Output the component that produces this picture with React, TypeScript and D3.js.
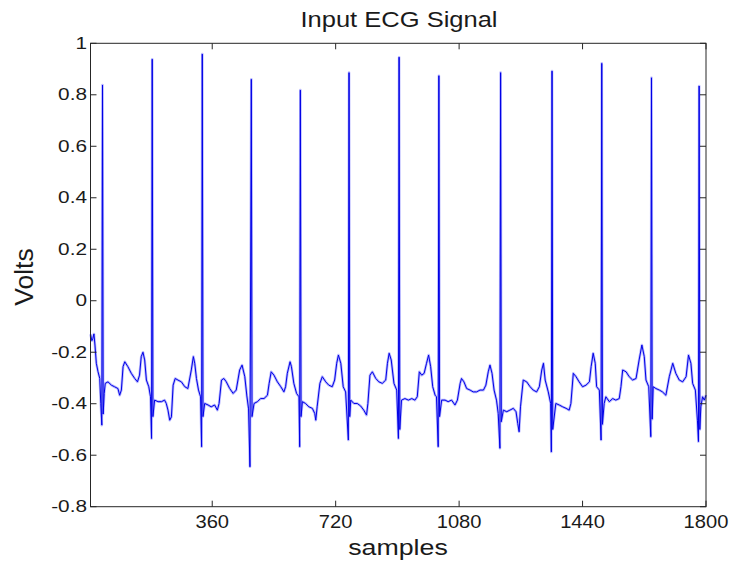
import React from 'react';
import * as d3 from 'd3';

const W = 731;
const H = 568;
const plot = { left: 90.5, right: 706, top: 43.3, bottom: 506.7 };

const xTicks = [360, 720, 1080, 1440, 1800];
const yTicks = [-0.8, -0.6, -0.4, -0.2, 0, 0.2, 0.4, 0.6, 0.8, 1];

// [sample, volts], one chunk per heart beat
const lead = [[5, -0.13], [9, -0.155], [12, -0.146], [15, -0.129], [18, -0.172], [22, -0.243], [27, -0.276], [32, -0.302], [35, -0.4], [38, -0.483], [40, 0.838], [42, -0.44]];
const beat01 = [[45, -0.36], [48, -0.321], [56, -0.315], [66, -0.328], [75, -0.334], [85, -0.341], [90, -0.367], [95, -0.347], [100, -0.256], [105, -0.237], [114, -0.256], [124, -0.282], [134, -0.302], [142, -0.315], [148, -0.289], [153, -0.217], [158, -0.2], [163, -0.23], [168, -0.308], [175, -0.334], [180, -0.373], [183, -0.535], [185, 0.938], [187, -0.45]];
const beat02 = [[192, -0.386], [202, -0.392], [212, -0.392], [221, -0.386], [226, -0.399], [231, -0.425], [236, -0.464], [241, -0.451], [246, -0.328], [252, -0.302], [260, -0.308], [270, -0.315], [280, -0.334], [289, -0.341], [299, -0.269], [305, -0.217], [309, -0.243], [314, -0.302], [320, -0.347], [326, -0.373], [329, -0.567], [331, 0.958], [333, -0.45]];
const beat03 = [[338, -0.399], [348, -0.405], [357, -0.412], [367, -0.405], [375, -0.425], [380, -0.399], [387, -0.308], [394, -0.302], [401, -0.315], [411, -0.341], [421, -0.36], [430, -0.347], [440, -0.269], [447, -0.25], [455, -0.295], [461, -0.37], [466, -0.42], [470, -0.645], [474, 0.86], [476, -0.45]];
const beat04 = [[482, -0.399], [492, -0.392], [501, -0.38], [511, -0.38], [521, -0.367], [526, -0.321], [532, -0.276], [540, -0.289], [550, -0.315], [560, -0.334], [569, -0.354], [574, -0.334], [579, -0.282], [587, -0.237], [591, -0.256], [598, -0.321], [606, -0.36], [613, -0.373], [615, -0.567], [617, 0.818], [619, -0.45]];
const beat05 = [[623, -0.392], [632, -0.399], [642, -0.412], [652, -0.418], [659, -0.438], [662, -0.464], [666, -0.412], [674, -0.321], [681, -0.295], [691, -0.315], [700, -0.328], [710, -0.334], [717, -0.308], [723, -0.243], [728, -0.211], [735, -0.243], [742, -0.334], [749, -0.354], [757, -0.541], [759, 0.886], [761, -0.45]];
const beat06 = [[764, -0.386], [773, -0.399], [783, -0.399], [793, -0.409], [802, -0.425], [810, -0.444], [814, -0.399], [820, -0.289], [827, -0.276], [837, -0.302], [846, -0.315], [856, -0.321], [866, -0.308], [871, -0.243], [876, -0.204], [882, -0.23], [890, -0.321], [898, -0.347], [903, -0.535], [905, 0.946], [907, -0.5]];
const beat07 = [[912, -0.386], [922, -0.38], [932, -0.386], [942, -0.38], [951, -0.386], [958, -0.373], [964, -0.276], [971, -0.289], [978, -0.282], [985, -0.243], [991, -0.211], [997, -0.256], [1003, -0.334], [1010, -0.367], [1014, -0.373], [1019, -0.567], [1021, 0.874], [1023, -0.45]];
const beat08 = [[1029, -0.386], [1039, -0.386], [1048, -0.392], [1058, -0.386], [1068, -0.405], [1075, -0.386], [1083, -0.321], [1087, -0.302], [1094, -0.315], [1102, -0.341], [1112, -0.347], [1121, -0.354], [1131, -0.354], [1141, -0.347], [1151, -0.347], [1158, -0.328], [1165, -0.276], [1170, -0.25], [1176, -0.282], [1182, -0.347], [1189, -0.386], [1194, -0.438], [1199, -0.573], [1201, 0.886], [1203, -0.47]];
const beat09 = [[1209, -0.425], [1219, -0.431], [1228, -0.425], [1238, -0.418], [1246, -0.431], [1251, -0.477], [1255, -0.509], [1259, -0.412], [1267, -0.308], [1277, -0.315], [1287, -0.334], [1296, -0.347], [1306, -0.354], [1314, -0.334], [1321, -0.269], [1326, -0.243], [1331, -0.308], [1340, -0.354], [1347, -0.399], [1349, -0.587], [1351, 0.892], [1353, -0.5]];
const beat10 = [[1362, -0.399], [1372, -0.405], [1382, -0.412], [1392, -0.418], [1401, -0.425], [1406, -0.399], [1413, -0.282], [1421, -0.295], [1430, -0.315], [1440, -0.334], [1450, -0.328], [1460, -0.315], [1465, -0.256], [1471, -0.204], [1477, -0.243], [1481, -0.334], [1489, -0.347], [1494, -0.541], [1496, 0.922], [1498, -0.48]];
const beat11 = [[1503, -0.399], [1508, -0.373], [1518, -0.392], [1528, -0.38], [1537, -0.386], [1547, -0.38], [1552, -0.334], [1557, -0.269], [1567, -0.276], [1576, -0.295], [1586, -0.308], [1596, -0.302], [1605, -0.23], [1613, -0.172], [1620, -0.217], [1625, -0.308], [1633, -0.334], [1639, -0.528], [1641, 0.866], [1643, -0.46]];
const beat12 = [[1646, -0.334], [1654, -0.341], [1664, -0.347], [1673, -0.354], [1683, -0.367], [1693, -0.295], [1703, -0.243], [1712, -0.282], [1722, -0.308], [1732, -0.315], [1742, -0.295], [1749, -0.211], [1756, -0.243], [1761, -0.321], [1769, -0.347], [1775, -0.464], [1778, -0.547], [1780, 0.834], [1782, -0.5]];
const tail = [[1785, -0.412], [1790, -0.373], [1795, -0.386], [1800, -0.367]];

const trace = [lead, beat01, beat02, beat03, beat04, beat05, beat06, beat07, beat08, beat09, beat10, beat11, beat12, tail].flat();

const font = "'Liberation Sans', Arial, Helvetica, sans-serif";
const ink = '#1a1a1a';

// text squeezed/stretched sideways like the resized matlab figure
const Label = ({ x, y, size, sx = 1, anchor = 'middle', rotate = 0, children }) => (
  <g transform={`translate(${x},${y}) rotate(${rotate}) scale(${sx},1)`}>
    <text fontSize={size} textAnchor={anchor} fontFamily={font} fill={ink}>{children}</text>
  </g>
);

export default function App() {
  const x = d3.scaleLinear().domain([5, 1800]).range([plot.left, plot.right]);
  const y = d3.scaleLinear().domain([-0.8, 1]).range([plot.bottom, plot.top]);

  const line = d3.line()
    .x(d => x(d[0]))
    .y(d => y(d[1]));

  const d = line(trace);
  const tick = 6;

  return (
    <svg width={W} height={H} style={{ position: 'absolute', left: 0, top: 0, background: '#fff' }}>
      <rect x={0} y={0} width={W} height={H} fill="#fff" />

      {/* soft halo first, the jpeg smeared the thin trace */}
      <path d={d} fill="none" stroke="#7070ff" strokeOpacity={0.5} strokeWidth={2.6} strokeLinejoin="round" />
      <path d={d} fill="none" stroke="#0000e6" strokeWidth={1} strokeLinejoin="round" />

      {/* frame */}
      <rect x={plot.left} y={plot.top} width={plot.right - plot.left} height={plot.bottom - plot.top}
        fill="none" stroke="#262626" strokeWidth={1} />

      {yTicks.map(t => (
        <g key={`y${t}`}>
          <line x1={plot.left} x2={plot.left + tick} y1={y(t)} y2={y(t)} stroke="#262626" />
          <line x1={plot.right} x2={plot.right - tick} y1={y(t)} y2={y(t)} stroke="#262626" />
          <Label x={87} y={y(t) + 5.7} size={16} sx={1.3} anchor="end">{String(t)}</Label>
        </g>
      ))}

      {xTicks.map(t => (
        <g key={`x${t}`}>
          <line x1={x(t)} x2={x(t)} y1={plot.bottom} y2={plot.bottom - tick} stroke="#262626" />
          <line x1={x(t)} x2={x(t)} y1={plot.top} y2={plot.top + tick} stroke="#262626" />
          <Label x={x(t)} y={528} size={18} sx={1.12}>{String(t)}</Label>
        </g>
      ))}

      <Label x={399} y={27} size={22} sx={1.16}>Input ECG Signal</Label>
      <Label x={398} y={555} size={22.5} sx={1.19}>samples</Label>
      <Label x={33} y={277} size={25} sx={1.06} rotate={-90}>Volts</Label>
    </svg>
  );
}
